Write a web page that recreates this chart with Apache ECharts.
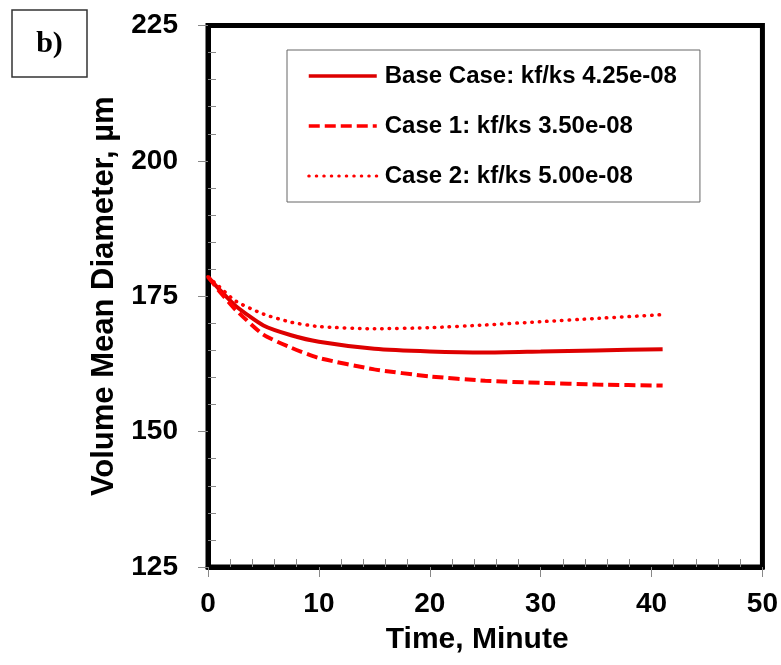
<!DOCTYPE html>
<html>
<head>
<meta charset="utf-8">
<script src="https://cdn.jsdelivr.net/npm/echarts@6/dist/echarts.min.js"></script>
<style>html,body{margin:0;padding:0;background:#fff}#c{width:781px;height:665px}</style>
</head>
<body>
<div id="c"></div>
<script>
const timeMin = [0, 1, 2.5, 5, 7.5, 10, 15, 20, 25, 30, 35, 41];
const baseCase = [178.6, 176.3, 173.2, 169.6, 167.8, 166.6, 165.3, 164.8, 164.6, 164.8, 165.0, 165.2];
const case1 = [178.6, 176.0, 172.5, 167.9, 165.5, 163.6, 161.5, 160.2, 159.4, 159.0, 158.7, 158.5];
const case2 = [178.6, 176.8, 174.1, 171.7, 170.2, 169.4, 169.0, 169.2, 169.7, 170.3, 170.9, 171.6];
const seriesNames = ['Base Case: kf/ks 4.25e-08', 'Case 1: kf/ks 3.50e-08', 'Case 2: kf/ks 5.00e-08'];
const xMinorTicks = [2,4,6,8,12,14,16,18,22,24,26,28,32,34,36,38,42,44,46,48];
const yMinorTicks = [130,135,140,145,155,160,165,170,180,185,190,195,205,210,215,220];

const FONT = '"Liberation Sans", Arial, sans-serif';
const zip = (xs, ys) => xs.map((x, i) => [x, ys[i]]);

const chart = echarts.init(document.getElementById('c'), null, {renderer: 'canvas'});
chart.setOption({
  animation: false,
  backgroundColor: '#fff',
  grid: {left: 208, top: 25.5, width: 557, height: 541.5, show: true, borderColor: '#000', borderWidth: 5, containLabel: false},
  xAxis: [{
    type: 'value', min: 0, max: 50, interval: 10,
    name: 'Time, Minute', nameLocation: 'middle', nameGap: 58,
    nameTextStyle: {fontFamily: FONT, fontWeight: 'bold', fontSize: 30, color: '#000', padding: [0, 16, 0, 0]},
    axisLine: {show: true, onZero: false, lineStyle: {color: '#000', width: 5}},
    axisTick: {show: true, inside: false, length: 10, lineStyle: {color: '#888', width: 1}},
    axisLabel: {fontFamily: FONT, fontWeight: 'bold', fontSize: 28, color: '#000', margin: 23},
    splitLine: {show: false}
  }, {
    type: 'value', min: 0, max: 50, position: 'bottom', offset: 0,
    axisLine: {show: false}, axisLabel: {show: false}, splitLine: {show: false},
    axisTick: {show: true, inside: true, length: 8, customValues: xMinorTicks, lineStyle: {color: '#888', width: 1}}
  }],
  yAxis: [{
    type: 'value', min: 125, max: 225, interval: 25,
    name: 'Volume Mean Diameter, µm', nameLocation: 'middle', nameGap: 88, nameRotate: 90,
    nameTextStyle: {fontFamily: FONT, fontWeight: 'bold', fontSize: 31, color: '#000'},
    axisLine: {show: true, onZero: false, lineStyle: {color: '#000', width: 5}},
    axisTick: {show: true, inside: false, length: 10, lineStyle: {color: '#888', width: 1}},
    axisLabel: {fontFamily: FONT, fontWeight: 'bold', fontSize: 28, color: '#000', margin: 30},
    splitLine: {show: false}
  }, {
    type: 'value', min: 125, max: 225, position: 'left', offset: 0,
    axisLine: {show: false}, axisLabel: {show: false}, splitLine: {show: false},
    axisTick: {show: true, inside: true, length: 8, customValues: yMinorTicks, lineStyle: {color: '#888', width: 1}}
  }],
  legend: {
    orient: 'vertical', left: 287, top: 50,
    padding: [14, 23, 14, 20],
    borderColor: '#666', borderWidth: 1,
    itemWidth: 68, itemHeight: 24, itemGap: 26,
    itemStyle: {opacity: 0},
    textStyle: {fontFamily: FONT, fontWeight: 'bold', fontSize: 24, lineHeight: 24, color: '#000', padding: [0, 0, 0, 3]},
    data: [
      {name: seriesNames[0], lineStyle: {width: 3.5}},
      {name: seriesNames[1], lineStyle: {width: 3.5}},
      {name: seriesNames[2], lineStyle: {width: 3}}
    ]
  },
  graphic: [
    {type: 'rect', shape: {x: 12, y: 10, width: 75, height: 67}, style: {fill: '#fff', stroke: '#333', lineWidth: 1.5}},
    {type: 'text', x: 49.5, y: 44, style: {text: 'b)', fontFamily: '"Liberation Serif", "Times New Roman", serif', fontWeight: 'bold', fontSize: 30, fill: '#000', align: 'center', verticalAlign: 'middle'}}
  ],
  series: [
    {name: seriesNames[0], type: 'line', xAxisIndex: 0, yAxisIndex: 0, data: zip(timeMin, baseCase), symbol: 'none', smooth: 0.2,
     lineStyle: {color: '#dd0000', width: 4}, itemStyle: {color: '#dd0000'}},
    {name: seriesNames[1], type: 'line', xAxisIndex: 0, yAxisIndex: 0, data: zip(timeMin, case1), symbol: 'none', smooth: 0.2,
     lineStyle: {color: '#ff0000', width: 4, type: [11, 5]}, itemStyle: {color: '#ff0000'}},
    {name: seriesNames[2], type: 'line', xAxisIndex: 0, yAxisIndex: 0, data: zip(timeMin, case2), symbol: 'none', smooth: 0.2,
     lineStyle: {color: '#ff0000', width: 3.5, type: [0.5, 7], cap: 'round'}, itemStyle: {color: '#ff0000'}}
  ]
});
</script>
</body>
</html>
